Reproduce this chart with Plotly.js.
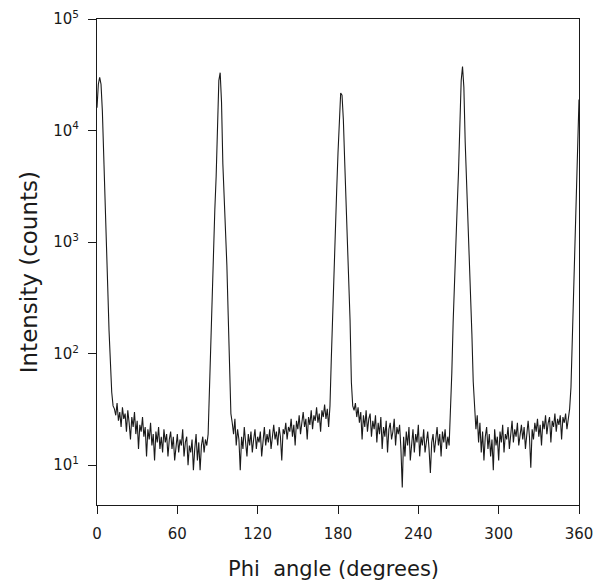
<!DOCTYPE html>
<html>
<head>
<meta charset="utf-8">
<script src="https://cdn.plot.ly/plotly-3.0.1.min.js"></script>
<style>
  html, body { margin: 0; padding: 0; background: #ffffff; }
  #chart { width: 607px; height: 584px; }
</style>
</head>
<body>
<div id="chart"></div>
<script>
// Phi scan: 1 degree steps from 0 to 360
const phiStart = 0;
const phiStep = 1;

// Intensity (counts), one value per degree (10 per row)
const intensity = [
  16000, 26000, 30000, 26000, 15000, 6800, 2800, 1000, 400, 160,   // 0
  75, 45, 34, 32, 28, 36, 25, 30, 22, 33,                          // 10
  26, 29, 20, 31, 24, 17, 27, 22, 30, 19,                          // 20
  25, 14, 23, 20, 27, 18, 22, 12, 21, 17,                          // 30
  24, 15, 19, 11, 20, 16, 22, 14, 18, 13,                          // 40
  21, 16, 19, 12, 17, 20, 14, 18, 11, 16,                          // 50
  19, 13, 17, 15, 21, 12, 16, 18, 10, 15,                          // 60
  13, 17, 9, 14, 19, 11, 16, 9, 15, 18,                            // 70
  13, 17, 15, 19, 54, 145, 410, 980, 1950, 3900,                   // 80
  11700, 28000, 33000, 18000, 5000, 2600, 1300, 620, 220, 78,      // 90
  29, 24, 19, 26, 15, 21, 17, 9, 18, 14,                           // 100
  22, 16, 12, 19, 15, 20, 13, 17, 21, 14,                          // 110
  18, 16, 20, 12, 17, 22, 15, 19, 16, 21,                          // 120
  14, 18, 23, 17, 20, 15, 22, 18, 11, 21,                          // 130
  19, 24, 17, 22, 20, 26, 18, 23, 15, 25,                          // 140
  21, 28, 19, 24, 30, 22, 26, 17, 27, 23,                          // 150
  31, 21, 28, 25, 33, 24, 29, 20, 31, 27,                          // 160
  35, 26, 32, 22, 34, 90, 240, 640, 1370, 2870,                    // 170
  6300, 14300, 21700, 20800, 12500, 5300, 2500, 1170, 560, 200,    // 180
  55, 34, 31, 36, 27, 33, 24, 30, 17, 28,                          // 190
  22, 31, 20, 26, 29, 18, 25, 21, 28, 16,                          // 200
  24, 19, 27, 14, 22, 18, 25, 13, 21, 24,                          // 210
  17, 20, 26, 15, 22, 19, 23, 14, 6.3, 18,                         // 220
  12, 20, 15, 22, 11, 17, 21, 13, 19, 16,                          // 230
  23, 12, 18, 15, 21, 13, 17, 20, 14, 8.5,                         // 240
  16, 19, 13, 18, 22, 15, 19, 12, 20, 16,                          // 250
  21, 14, 18, 15, 27, 67, 190, 480, 1020, 2040,                    // 260
  4250, 10700, 28000, 37500, 24500, 7900, 3700, 1770, 890, 395,    // 270
  150, 56, 30, 21, 28, 16, 24, 13, 20, 11,                         // 280
  18, 22, 14, 19, 12, 17, 9, 21, 15, 18,                           // 290
  11, 20, 16, 23, 13, 19, 17, 22, 14, 20,                          // 300
  25, 16, 21, 18, 24, 15, 20, 23, 17, 22,                          // 310
  14, 19, 25, 18, 9.5, 21, 17, 24, 20, 26,                         // 320
  18, 23, 15, 25, 21, 28, 19, 24, 27, 16,                          // 330
  25, 22, 29, 20, 26, 23, 28, 17, 27, 24,                          // 340
  29, 21, 27, 32, 50, 140, 430, 1250, 3300, 7800,                  // 350
  19000                                                            // 360
];

const xTickVals = [0, 60, 120, 180, 240, 300, 360];
const yTickVals = [10, 100, 1000, 10000, 100000];
const yTickText = ['10<sup>1</sup>', '10<sup>2</sup>', '10<sup>3</sup>', '10<sup>4</sup>', '10<sup>5</sup>'];
const xTitle = 'Phi\u00a0 angle (degrees)';
const yTitle = 'Intensity (counts)';

const phi = intensity.map((_, i) => phiStart + i * phiStep);

const FONT = 'DejaVu Sans, Liberation Sans, Arial, sans-serif';
const INK = '#1a1a1a';

const trace = {
  type: 'scatter',
  mode: 'lines',
  x: phi,
  y: intensity,
  line: { color: INK, width: 1.1 },
  hoverinfo: 'x+y'
};

const layout = {
  width: 607,
  height: 584,
  margin: { l: 97, r: 28, t: 19, b: 79 },
  paper_bgcolor: '#ffffff',
  plot_bgcolor: '#ffffff',
  showlegend: false,
  font: { family: FONT, color: INK },
  xaxis: {
    range: [0, 360],
    tickvals: xTickVals,
    ticktext: xTickVals.map(String),
    ticks: 'outside',
    ticklen: 8,
    tickwidth: 1,
    tickcolor: INK,
    showline: true,
    mirror: true,
    linecolor: INK,
    linewidth: 1,
    showgrid: false,
    zeroline: false,
    tickfont: { family: FONT, size: 15, color: INK },
    ticklabelstandoff: 7
  },
  yaxis: {
    type: 'log',
    range: [0.643, 5],
    tickvals: yTickVals,
    ticktext: yTickText,
    ticks: 'outside',
    ticklen: 8,
    tickwidth: 1,
    tickcolor: INK,
    showline: true,
    mirror: true,
    linecolor: INK,
    linewidth: 1,
    showgrid: false,
    zeroline: false,
    tickfont: { family: FONT, size: 15, color: INK },
    ticklabelstandoff: 6
  },
  annotations: [
    {
      text: xTitle, xref: 'paper', yref: 'paper', x: 0.49, y: -0.131,
      xanchor: 'center', yanchor: 'middle', showarrow: false,
      font: { family: FONT, size: 21, color: INK }
    },
    {
      text: yTitle, xref: 'paper', yref: 'paper', x: -0.141, y: 0.479,
      xanchor: 'center', yanchor: 'middle', showarrow: false, textangle: -90,
      font: { family: FONT, size: 23, color: INK }
    }
  ]
};

Plotly.newPlot('chart', [trace], layout, { displayModeBar: false, staticPlot: true });
</script>
</body>
</html>
